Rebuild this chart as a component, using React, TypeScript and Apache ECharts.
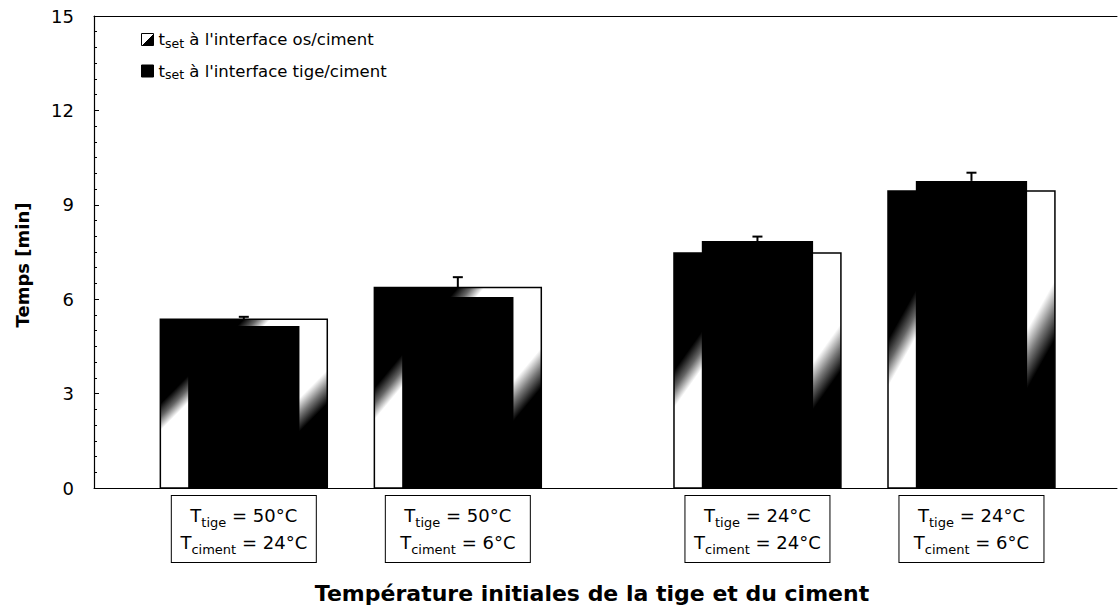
import React, { useEffect, useRef } from "react";
import * as echarts from "echarts";

// ---- data ----
const tigeTemps = ["50°C", "50°C", "24°C", "24°C"];
const cimentTemps = ["24°C", "6°C", "24°C", "6°C"];
const groupPos = [1, 2, 3.4, 4.4];
const osValues = [5.36, 6.37, 7.47, 9.44];
const tigeValues = [5.15, 6.07, 7.85, 9.76];
const errUpper = [5.44, 6.7, 7.99, 10.02];
const yMin = 0;
const yMax = 15;
const yInterval = 3;

const seriesOs = "os/ciment";
const seriesTige = "tige/ciment";

const FONT = "'DejaVu Sans', sans-serif";

export default function App() {
  const ref = useRef<HTMLDivElement>(null);

  useEffect(() => {
    if (!ref.current) return;
    const chart = echarts.init(ref.current, null, { renderer: "svg" });

    const wideFill = new echarts.graphic.LinearGradient(0, 0, 1, 1, [
      { offset: 0, color: "#000" },
      { offset: 0.25, color: "#000" },
      { offset: 0.29, color: "#666" },
      { offset: 0.33, color: "#fff" },
      { offset: 0.65, color: "#fff" },
      { offset: 0.7, color: "#777" },
      { offset: 0.75, color: "#000" },
      { offset: 1, color: "#000" },
    ]);
    const legendFill = new echarts.graphic.LinearGradient(0, 0, 1, 1, [
      { offset: 0, color: "#fff" },
      { offset: 0.5, color: "#fff" },
      { offset: 0.5, color: "#000" },
      { offset: 1, color: "#000" },
    ]);

    const wideW = 0.78;
    const narrowW = 0.52;

    const barRender = (width: number, fill: any, stroke: boolean) =>
      (params: any, api: any) => {
        const x = api.value(0);
        const v = api.value(1);
        const top = api.coord([x, v]);
        const base = api.coord([x, 0]);
        const w = api.size([width, 0])[0];
        return {
          type: "rect",
          shape: { x: top[0] - w / 2, y: top[1], width: w, height: base[1] - top[1] },
          style: stroke
            ? { fill, stroke: "#000", lineWidth: 1.5 }
            : { fill },
        };
      };

    const labelFor = (v: number) => {
      const i = groupPos.findIndex((p) => Math.abs(p - v) < 1e-6);
      if (i < 0) return "";
      return `{t|T}{s|tige}{t| = ${tigeTemps[i]}}\n{t|T}{s|ciment}{t| = ${cimentTemps[i]}}`;
    };

    const legendFmt = (name: string) =>
      `{t|t}{s|set}{t| à l'interface ${name}}`;

    chart.setOption({
      animation: false,
      backgroundColor: "#fff",
      textStyle: { fontFamily: FONT, color: "#000" },
      grid: { left: 94, right: 2, top: 16, bottom: 120, containLabel: false },
      legend: {
        orient: "vertical",
        left: 136,
        top: 26,
        itemWidth: 12,
        itemHeight: 12,
        itemGap: 13,
        data: [
          { name: seriesOs, icon: "rect", itemStyle: { color: legendFill, borderColor: "#000", borderWidth: 1 } },
          { name: seriesTige, icon: "rect", itemStyle: { color: "#000", borderColor: "#000", borderWidth: 1 } },
        ],
        formatter: legendFmt,
        textStyle: {
          fontFamily: FONT,
          color: "#000",
          rich: {
            t: { fontFamily: FONT, fontSize: 16.5, color: "#000", lineHeight: 20 },
            s: { fontFamily: FONT, fontSize: 12.5, color: "#000", lineHeight: 9, verticalAlign: "bottom" },
          },
        },
      },
      xAxis: [
        {
          type: "value",
          min: 0.3,
          max: 5.08,
          splitLine: { show: false },
          axisLine: { show: true, onZero: false, lineStyle: { color: "#000", width: 1 } },
          axisTick: { show: false },
          axisLabel: {
            customValues: groupPos,
            formatter: labelFor,
            margin: 8,
            width: 130,
            align: "center",
            padding: [6, 7, 6, 7],
            borderColor: "#000",
            borderWidth: 1,
            backgroundColor: "#fff",
            rich: {
              t: { fontFamily: FONT, fontSize: 18, color: "#000", lineHeight: 27, align: "center" },
              s: { fontFamily: FONT, fontSize: 13, color: "#000", lineHeight: 15, verticalAlign: "bottom", align: "center" },
            },
          },
        },
        {
          type: "value",
          position: "top",
          min: 0.3,
          max: 5.08,
          splitLine: { show: false },
          axisLine: { show: true, onZero: false, lineStyle: { color: "#000", width: 1 } },
          axisTick: { show: false },
          axisLabel: { show: false },
        },
      ],
      yAxis: {
        type: "value",
        min: yMin,
        max: yMax,
        interval: yInterval,
        splitLine: { show: false },
        axisLine: { show: true, lineStyle: { color: "#000", width: 1.2 } },
        axisTick: { show: true, inside: true, length: 5, lineStyle: { color: "#000" } },
        minorTick: { show: true, splitNumber: 6, length: 3, lineStyle: { color: "#000" } },
        axisLabel: { fontFamily: FONT, fontSize: 18, color: "#000", margin: 20 },
      },
      graphic: [
        {
          type: "text",
          x: 22,
          y: 265,
          rotation: Math.PI / 2,
          style: {
            text: "Temps [min]",
            fontFamily: FONT,
            fontWeight: "bold",
            fontSize: 18,
            fill: "#000",
            textAlign: "center",
            textVerticalAlign: "middle",
          },
        },
        {
          type: "text",
          x: 592,
          y: 593,
          style: {
            text: "Température initiales de la tige et du ciment",
            fontFamily: FONT,
            fontWeight: "bold",
            fontSize: 22,
            fill: "#000",
            textAlign: "center",
            textVerticalAlign: "middle",
          },
        },
      ],
      series: [
        {
          name: seriesOs,
          type: "custom",
          itemStyle: { color: legendFill },
          encode: { x: 0, y: 1 },
          data: groupPos.map((p, i) => [p, osValues[i]]),
          renderItem: barRender(wideW, wideFill, true),
          z: 2,
        },
        {
          name: seriesTige,
          type: "custom",
          itemStyle: { color: "#000" },
          encode: { x: 0, y: 1 },
          data: groupPos.map((p, i) => [p, tigeValues[i]]),
          renderItem: barRender(narrowW, "#000", false),
          z: 3,
        },
        {
          name: "erreur",
          type: "custom",
          encode: { x: 0, y: [1, 2] },
          data: groupPos.map((p, i) => [p, Math.max(osValues[i], tigeValues[i]), errUpper[i]]),
          renderItem: (params: any, api: any) => {
            const x = api.value(0);
            const b = api.coord([x, api.value(1)]);
            const u = api.coord([x, api.value(2)]);
            const cap = 5;
            return {
              type: "group",
              children: [
                { type: "line", shape: { x1: b[0], y1: b[1], x2: u[0], y2: u[1] }, style: { stroke: "#000", lineWidth: 2 } },
                { type: "line", shape: { x1: u[0] - cap, y1: u[1], x2: u[0] + cap, y2: u[1] }, style: { stroke: "#000", lineWidth: 2 } },
              ],
            };
          },
          z: 4,
        },
      ],
    });

    return () => chart.dispose();
  }, []);

  return (
    <div
      ref={ref}
      style={{ position: "absolute", left: 0, top: 0, width: 1119, height: 608, background: "#fff" }}
    />
  );
}
